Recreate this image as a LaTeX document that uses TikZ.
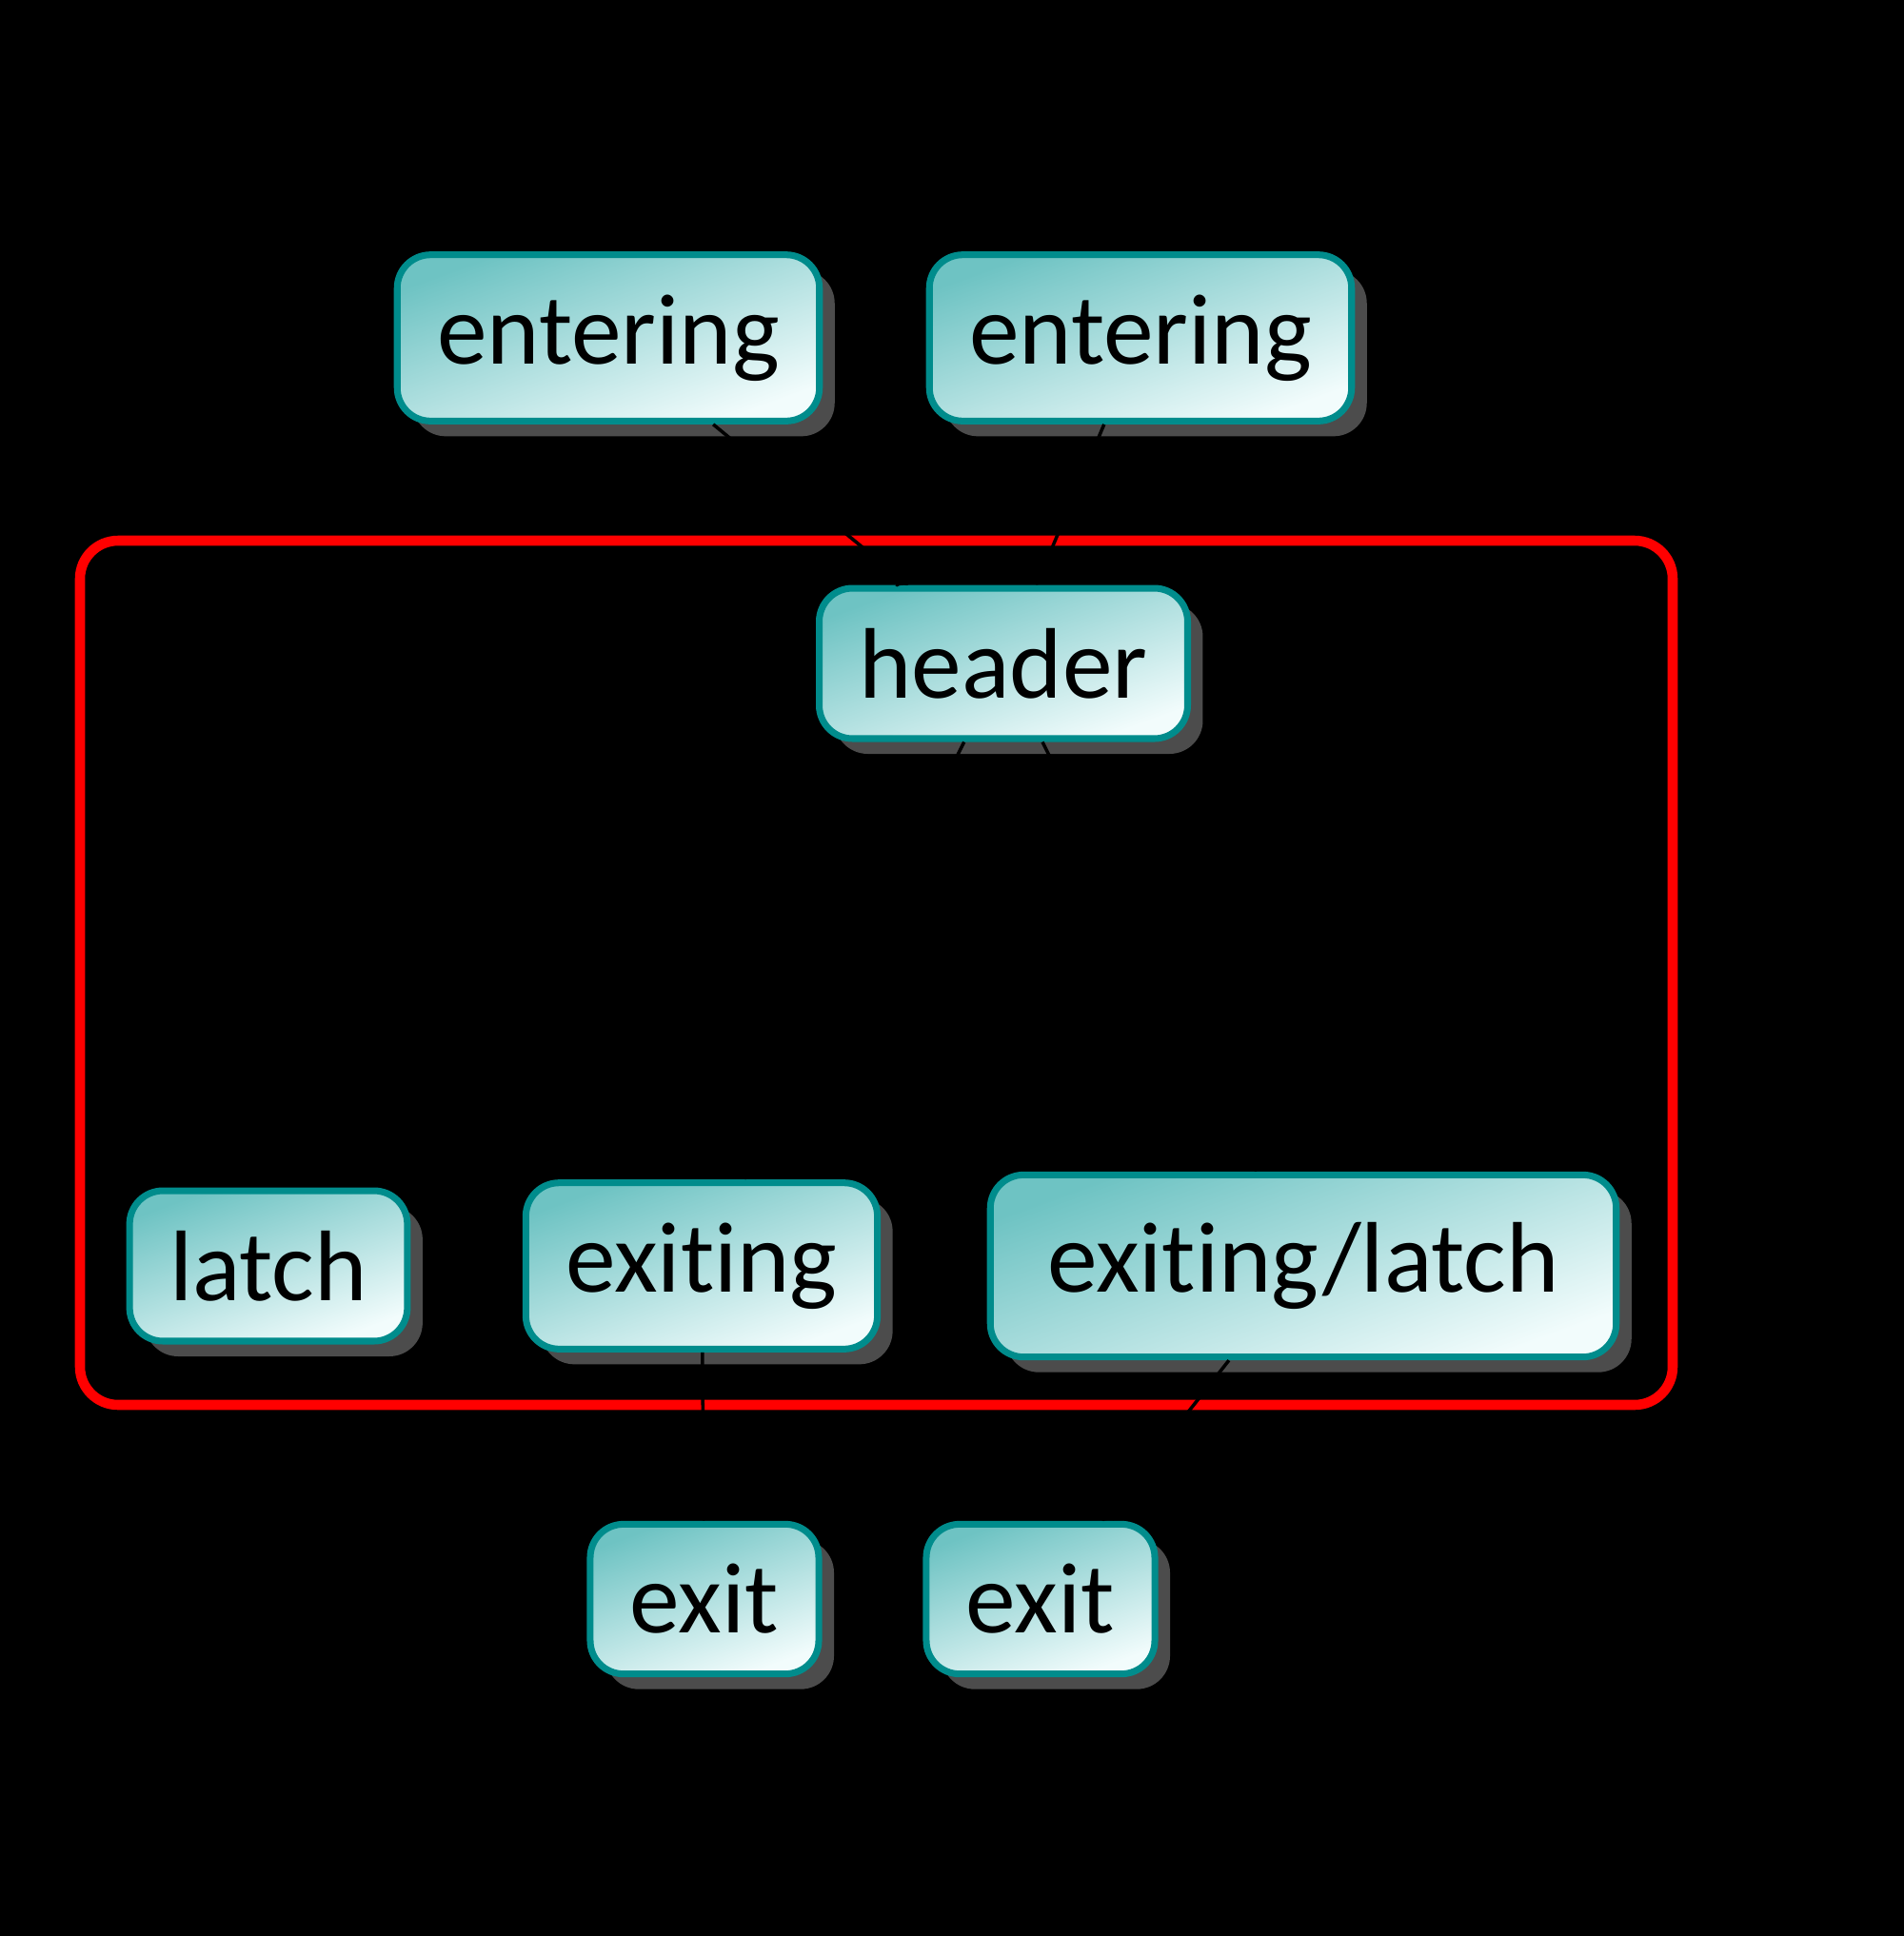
\documentclass[tikz,border=0pt]{standalone}
\usepackage{fontspec}
\setmainfont[Ligatures={NoCommon,NoRequired,NoContextual,NoDiscretionary}]{Carlito}
\usetikzlibrary{shadows}
\definecolor{blockline}{RGB}{0,140,140}
\definecolor{blocktop}{RGB}{110,195,195}
\definecolor{blockbot}{RGB}{242,252,252}
\definecolor{loopred}{RGB}{255,0,0}
\begin{document}
\begin{tikzpicture}[
    block/.style={draw=blockline, line width=2pt, rounded corners=0.35cm,
      top color=blocktop, bottom color=blockbot, shading angle=20,
      text=black, font=\fontsize{30}{36}\selectfont, inner sep=0.42cm,
      drop shadow={shadow xshift=0.16cm, shadow yshift=-0.16cm,
        fill=black!70, opacity=1}},
    edge/.style={->, black, line width=1pt}
  ]
  \fill[black] (0,0) rectangle (20,-20.34);
  \draw[loopred, line width=3pt, rounded corners=0.4cm]
    (0.84,-5.68) rectangle (17.57,-14.76);
  \draw
    (6.39,-3.55) node[block] (enter1){entering}
    (11.98,-3.55) node[block] (enter2){entering}
    (10.54,-6.97) node[block] (header){header}
    (2.82,-13.30) node[block] (latch){latch}
    (7.37,-13.30) node[block] (exiting){exiting}
    (13.69,-13.30) node[block, inner xsep=0.6cm, inner ysep=0.5cm] (exlatch){exiting/latch}
    (7.40,-16.80) node[block] (exit1){exit}
    (10.93,-16.80) node[block] (exit2){exit};
  \begin{scope}[edge]
    \draw (enter1) to (header);
    \draw (enter2) to (header);
    \draw (header) to (exiting);
    \draw (header) to (exlatch);
    \draw (exiting) to (exit1);
    \draw (exlatch) to (exit2);
  \end{scope}
\end{tikzpicture}
\end{document}
